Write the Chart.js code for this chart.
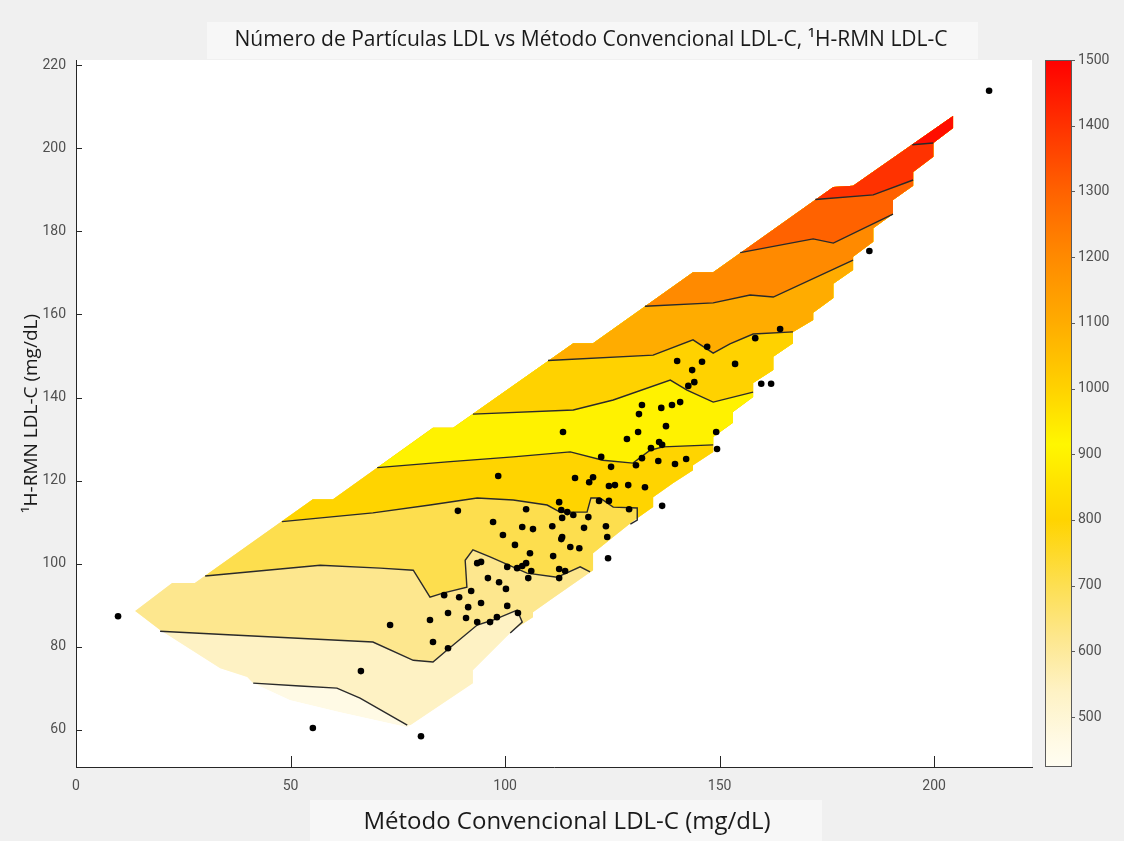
<!DOCTYPE html>
<html>
<head>
<meta charset="utf-8">
<script src="https://cdn.jsdelivr.net/npm/chart.js@4.4.1/dist/chart.umd.min.js"></script>
<style>
  html, body { margin: 0; padding: 0; background: #f0f0f0; }
  #c { display: block; }
</style>
</head>
<body>
<canvas id="c" width="1124" height="841"></canvas>
<script>
const TITLE = 'Número de Partículas LDL vs Método Convencional LDL-C, ¹H-RMN LDL-C';
const X_LABEL = 'Método Convencional LDL-C (mg/dL)';
const Y_LABEL = '¹H-RMN LDL-C (mg/dL)';

const xTicks = [0, 50, 100, 150, 200];
const yTicks = [60, 80, 100, 120, 140, 160, 180, 200, 220];
const cbTicks = [500, 600, 700, 800, 900, 1000, 1100, 1200, 1300, 1400, 1500];
const cbRange = [424, 1500];

// samples: conventional LDL-C vs 1H-NMR LDL-C
const convLDL = [9.8, 55.2, 80.4, 66.4, 73.2, 82.5, 83.2, 86.7, 212.8, 184.9,
  164.1, 158.3, 147.1, 140.1, 145.9, 153.6, 143.6, 144.1, 142.7, 159.7,
  162.0, 131.9, 131.2, 136.4, 138.9, 140.8, 137.5, 131.0, 128.4, 149.2,
  149.4, 135.9, 136.6, 134.0, 113.5, 122.4, 131.9, 130.5, 135.7, 139.6,
  142.2, 124.7, 98.4, 116.3, 119.6, 120.5, 124.2, 125.6, 128.7, 132.6,
  112.6, 121.9, 124.2, 136.6, 89.0, 104.9, 113.1, 114.5, 115.9, 113.3,
  119.4, 128.9, 97.2, 104.0, 106.5, 111.0, 113.3, 113.1, 118.4, 123.5,
  123.8, 99.5, 102.3, 115.2, 117.3, 124.0, 105.8, 111.2, 93.5, 94.4,
  100.5, 102.8, 104.0, 104.9, 106.1, 112.6, 114.0, 96.0, 98.6, 100.2,
  105.4, 112.6, 92.1, 85.8, 89.3, 94.4, 100.5, 86.7, 91.4, 90.9,
  93.5, 96.5, 98.1, 103.0];
const rmnLDL = [87.3, 60.4, 58.4, 74.1, 85.2, 86.4, 81.1, 79.6, 213.9, 175.3,
  156.5, 154.3, 152.2, 148.8, 148.6, 148.1, 146.6, 143.7, 142.8, 143.3,
  143.3, 138.2, 136.0, 137.5, 138.2, 138.9, 133.1, 131.7, 130.0, 131.7,
  127.6, 129.3, 128.6, 127.8, 131.7, 125.7, 125.4, 123.7, 124.7, 124.0,
  125.2, 123.3, 121.1, 120.6, 119.6, 120.8, 118.7, 118.9, 118.9, 118.4,
  114.8, 115.1, 115.1, 113.9, 112.7, 113.1, 112.9, 112.4, 111.7, 111.0,
  111.2, 113.1, 110.0, 108.8, 108.3, 109.0, 106.4, 105.9, 108.6, 109.0,
  106.4, 106.9, 104.5, 104.0, 103.7, 101.3, 102.5, 101.8, 100.1, 100.4,
  99.2, 98.9, 99.4, 100.1, 98.2, 98.7, 98.2, 96.5, 95.5, 93.9,
  96.5, 96.5, 93.4, 92.4, 91.9, 90.5, 89.8, 88.1, 89.5, 86.9,
  85.9, 85.9, 87.1, 88.1];

// outline of the interpolated grid (NaN outside)
const gridHull = [[13.8, 88.6], [22.4, 95.3], [27.7, 95.3], [55.2, 115.5], [59.9, 115.5],
  [83.2, 132.7], [87.9, 132.7], [115.9, 153.1], [120.5, 153.1], [143.8, 170.2],
  [148.5, 170.2], [176.5, 190.7], [181.1, 191.0], [204.4, 207.8],
  [204.4, 204.9], [199.8, 201.3], [199.8, 198.0], [195.1, 194.3], [195.1, 191.0],
  [190.4, 187.6], [190.4, 184.2], [185.8, 180.8], [185.8, 177.5], [181.1, 173.9],
  [181.1, 170.7], [176.5, 167.4], [176.5, 164.0], [171.8, 160.4], [171.8, 158.7],
  [167.1, 155.8], [167.1, 153.1], [162.5, 149.8], [162.5, 146.6], [157.8, 143.5],
  [157.8, 140.1], [153.1, 136.5], [153.1, 133.9], [148.5, 130.5], [148.5, 126.9],
  [143.8, 123.7], [143.8, 122.5], [139.2, 119.4], [134.5, 116.0], [134.5, 113.6],
  [129.8, 110.2], [125.2, 106.4], [120.5, 102.5], [120.5, 98.4], [111.2, 91.7],
  [106.5, 88.3], [106.5, 87.1], [101.9, 84.0], [92.5, 74.3], [92.5, 71.2],
  [77.2, 60.6], [61.5, 64.2], [49.9, 67.1], [41.3, 71.2], [39.9, 72.7],
  [33.6, 74.8], [19.6, 84.0]];

// iso-lines (particle number)
const c500 = [[41.3, 71.2], [52.2, 70.5], [60.8, 70.0], [66.2, 67.6], [77.2, 61.1]];
const c580 = [[19.6, 83.7], [36.6, 82.8], [69.2, 81.1], [78.6, 76.7], [83.2, 76.3], [86.5, 79.2],
  [93.5, 85.2], [97.2, 86.4], [102.8, 88.8], [104.0, 85.9], [101.2, 83.3]];
const c660 = [[30.1, 97.0], [56.9, 99.6], [70.9, 98.9], [78.6, 98.4], [82.5, 91.9], [85.5, 92.9],
  [91.1, 94.3], [90.7, 100.8], [92.5, 103.3], [96.5, 101.6], [105.1, 97.7], [112.1, 96.7],
  [117.5, 99.2], [119.8, 98.0]];
const c750 = [[48.0, 110.1], [69.2, 112.2], [82.5, 114.1], [93.5, 115.8], [101.9, 115.3],
  [109.8, 114.1], [112.8, 112.4], [119.1, 112.4], [120.0, 115.8], [122.1, 115.8],
  [125.2, 113.6], [130.8, 113.4], [130.8, 110.5], [129.2, 109.5]];
const c850 = [[70.2, 123.1], [86.5, 124.5], [101.9, 125.7], [115.2, 126.9], [122.8, 124.9],
  [129.8, 124.2], [133.8, 127.3], [136.8, 128.1], [148.5, 128.6]];
const c950 = [[92.5, 136.0], [115.9, 137.0], [125.2, 139.4], [138.5, 144.2], [142.4, 141.8],
  [148.5, 138.9], [157.8, 141.3]];
const c1050 = [[110.0, 148.9], [134.5, 150.2], [143.8, 153.9], [148.5, 150.7], [152.4, 152.9],
  [157.8, 155.3], [167.1, 155.8]];
const c1150 = [[132.6, 162.0], [148.5, 162.8], [157.1, 164.7], [162.5, 164.2], [181.1, 173.1]];
const c1250 = [[154.8, 174.9], [171.8, 178.2], [176.5, 177.2], [190.4, 184.2]];
const c1350 = [[172.3, 187.7], [185.8, 188.8], [195.1, 192.4]];
const c1450 = [[194.9, 200.9], [199.8, 201.3]];

const contourLevels = [500, 580, 660, 750, 850, 950, 1050, 1150, 1250, 1350, 1450];
const contourPaths = [c500, c580, c660, c750, c850, c950, c1050, c1150, c1250, c1350, c1450];

// colormap (value -> colour)
const cmapStops = [424, 460, 540, 620, 700, 800, 860, 915, 1000, 1100, 1200, 1300, 1400, 1500];
const cmapHex = ['#fffdf2', '#fffae6', '#fef2c4', '#fde78e', '#fddf52', '#ffd400', '#ffe400',
  '#fff700', '#ffd200', '#ffac00', '#ff8a00', '#ff6200', '#ff3200', '#ff0000'];

const NARROW = 'Roboto, "DejaVu Sans Condensed", sans-serif';
const SANS = '"Open Sans", "Noto Sans", sans-serif';

function hexRgb(h) {
  return [1, 3, 5].map(i => parseInt(h.slice(i, i + 2), 16));
}

function cmap(v) {
  if (v <= cmapStops[0]) return cmapHex[0];
  for (let i = 1; i < cmapStops.length; i++) {
    if (v <= cmapStops[i]) {
      const t = (v - cmapStops[i - 1]) / (cmapStops[i] - cmapStops[i - 1]);
      const a = hexRgb(cmapHex[i - 1]), b = hexRgb(cmapHex[i]);
      const c = a.map((ch, k) => Math.round(ch + (b[k] - ch) * t));
      return `rgb(${c[0]},${c[1]},${c[2]})`;
    }
  }
  return cmapHex[cmapHex.length - 1];
}

function bandColor(i) {
  const lo = i === 0 ? cbRange[0] : contourLevels[i - 1];
  const hi = i === contourLevels.length ? cbRange[1] : contourLevels[i];
  return cmap((lo + hi) / 2);
}

function tracePath(ctx, pts, x, y) {
  ctx.beginPath();
  pts.forEach((p, i) => {
    const px = x.getPixelForValue(p[0]), py = y.getPixelForValue(p[1]);
    if (i) ctx.lineTo(px, py); else ctx.moveTo(px, py);
  });
  ctx.closePath();
}

const figurePlugin = {
  id: 'figure',
  beforeDraw(chart) {
    const { ctx, chartArea: a } = chart;
    ctx.save();
    ctx.fillStyle = '#f0f0f0';
    ctx.fillRect(0, 0, chart.width, chart.height);
    ctx.fillStyle = '#f7f7f7';
    ctx.fillRect(207, 22, 771, 37);
    ctx.fillRect(310, 800, 512, 41);
    ctx.fillStyle = '#ffffff';
    ctx.fillRect(a.left, a.top, a.right - a.left, a.bottom - a.top);
    ctx.restore();
  },
  beforeDatasetsDraw(chart) {
    const { ctx, scales: { x, y } } = chart;
    ctx.save();
    tracePath(ctx, gridHull, x, y);
    ctx.clip();
    ctx.fillStyle = bandColor(0);
    ctx.fill();
    // paint each band above its lower iso-line, clipped to the grid outline
    contourPaths.forEach((path, i) => {
      const first = path[0], last = path[path.length - 1];
      const poly = [[-100, first[1]], ...path, [400, last[1]], [400, 400], [-100, 400]];
      tracePath(ctx, poly, x, y);
      ctx.fillStyle = bandColor(i + 1);
      ctx.fill();
    });
    ctx.restore();
  },
  afterDraw(chart) {
    const { ctx, chartArea: a, scales: { x, y, cb } } = chart;
    ctx.save();
    // inward ticks
    ctx.strokeStyle = '#262626';
    ctx.lineWidth = 1;
    ctx.beginPath();
    xTicks.forEach(v => {
      const px = Math.round(x.getPixelForValue(v)) + 0.5;
      ctx.moveTo(px, a.bottom);
      ctx.lineTo(px, a.bottom - 11);
    });
    yTicks.forEach(v => {
      const py = Math.round(y.getPixelForValue(v)) + 0.5;
      ctx.moveTo(a.left, py);
      ctx.lineTo(a.left + 6, py);
    });
    ctx.stroke();

    // colour bar
    const barL = 1045, barR = 1072;
    const top = cb.getPixelForValue(cbRange[1]), bot = cb.getPixelForValue(cbRange[0]);
    const grad = ctx.createLinearGradient(0, bot, 0, top);
    cmapStops.forEach((v, i) => grad.addColorStop((v - cbRange[0]) / (cbRange[1] - cbRange[0]), cmapHex[i]));
    ctx.fillStyle = grad;
    ctx.fillRect(barL, top, barR - barL, bot - top);
    ctx.strokeStyle = '#5a5a5a';
    ctx.strokeRect(barL + 0.5, top + 0.5, barR - barL - 1, bot - top - 1);
    ctx.beginPath();
    cbTicks.forEach(v => {
      const py = Math.round(cb.getPixelForValue(v)) + 0.5;
      ctx.moveTo(barR - 1, py);
      ctx.lineTo(barR + 3, py);
    });
    ctx.stroke();

    // titles
    ctx.fillStyle = '#1a1a1a';
    ctx.textAlign = 'center';
    ctx.textBaseline = 'middle';
    ctx.font = `21px ${SANS}`;
    ctx.fillText(TITLE, 591, 40);
    ctx.font = `24px ${SANS}`;
    ctx.fillText(X_LABEL, 567, 822);
    ctx.restore();
  }
};

const tickFont = { family: NARROW, size: 14 };
const tickColor = '#505050';

new Chart(document.getElementById('c'), {
  type: 'scatter',
  data: {
    datasets: [
      {
        label: 'Muestras',
        data: convLDL.map((v, i) => ({ x: v, y: rmnLDL[i] })),
        backgroundColor: '#000000',
        borderColor: '#000000',
        pointRadius: 3.3,
        pointBorderWidth: 0,
        order: 0
      },
      ...contourPaths.map((path, i) => ({
        label: String(contourLevels[i]),
        data: path.map(p => ({ x: p[0], y: p[1] })),
        showLine: true,
        borderColor: '#2a2a2a',
        borderWidth: 1.4,
        pointRadius: 0,
        fill: false,
        order: 1
      }))
    ]
  },
  options: {
    responsive: false,
    animation: false,
    devicePixelRatio: 1,
    layout: { padding: { top: 60, left: 0, right: 0, bottom: 0 } },
    plugins: { legend: { display: false }, tooltip: { enabled: false } },
    scales: {
      x: {
        type: 'linear', position: 'bottom', min: 0, max: 222.8,
        afterBuildTicks: s => { s.ticks = xTicks.map(v => ({ value: v })); },
        afterFit: s => { s.height = 74; },
        grid: { display: false, drawTicks: false },
        border: { display: true, color: '#262626', width: 1 },
        ticks: { padding: 11, color: tickColor, font: tickFont, callback: v => String(v) }
      },
      y: {
        type: 'linear', position: 'left', min: 51.0, max: 221.3,
        afterBuildTicks: s => { s.ticks = yTicks.map(v => ({ value: v })); },
        afterFit: s => { s.width = 76; },
        grid: { display: false, drawTicks: false },
        border: { display: true, color: '#262626', width: 1 },
        ticks: { padding: 10, color: tickColor, font: tickFont, callback: v => String(v) },
        title: { display: true, text: Y_LABEL, color: '#1a1a1a', font: { family: SANS, size: 19 }, padding: { top: 20, bottom: 0 } }
      },
      cb: {
        type: 'linear', position: 'right', min: cbRange[0], max: cbRange[1],
        afterBuildTicks: s => { s.ticks = cbTicks.map(v => ({ value: v })); },
        afterFit: s => { s.width = 92; },
        grid: { display: false, drawTicks: false },
        border: { display: false },
        ticks: { padding: 46, color: tickColor, font: tickFont, callback: v => String(v) }
      }
    }
  },
  plugins: [figurePlugin]
});
</script>
</body>
</html>
